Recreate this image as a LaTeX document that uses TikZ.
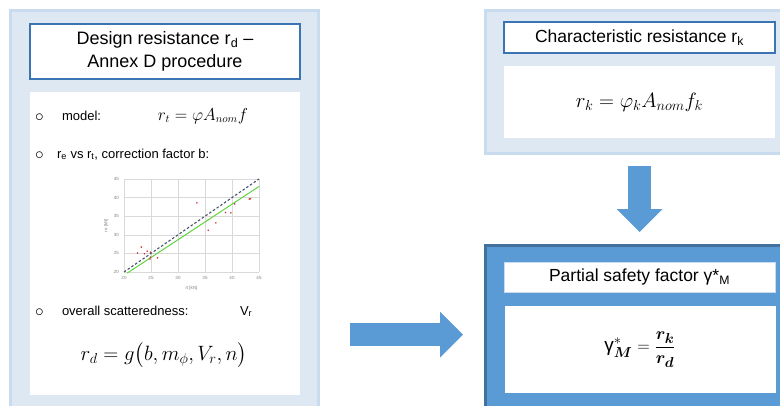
\documentclass[tikz,border=0pt]{standalone}
\usepackage{amsmath,bm}
\usepackage[no-math]{fontspec}
\setmainfont{Liberation Sans}
\usetikzlibrary{positioning,arrows.meta}
\definecolor{panelfill}{HTML}{DEE8F3}
\definecolor{panelline}{HTML}{C9DBEF}
\definecolor{titleline}{HTML}{3A74B2}
\definecolor{arrowblue}{HTML}{5B9BD5}
\definecolor{darkline}{HTML}{41719C}
\definecolor{fitgreen}{HTML}{5FD43F}
\definecolor{gridgray}{HTML}{D9D9D9}
\definecolor{dashgray}{HTML}{44546A}
\definecolor{dotred}{HTML}{D03030}

\begin{document}
\begin{tikzpicture}[x=1pt, y=-1pt,
  every node/.style={font=\fontsize{13}{16}\selectfont, inner sep=0pt, outer sep=0pt},
  panel/.style={draw=panelline, line width=3pt, fill=panelfill},
  titlebox/.style={draw=titleline, line width=2pt, fill=white, align=center,
                   minimum width=270pt},
  whitebox/.style={fill=white, minimum width=270pt},
  bulletmark/.style={font=\fontsize{17}{17}\selectfont},
  blockarrow/.style={draw=arrowblue, line width=23pt,
                     -{Triangle[length=23pt, width=46pt, line width=0pt]}},
  mathbig/.style={font=\fontsize{16}{18}\selectfont}
]
  \useasboundingbox (0,0) rectangle (780,405);
  \clip (0,0) rectangle (780,405);

  % left column: design resistance
  \node[panel, minimum width=308pt, minimum height=402pt] (design) at (164,211) {};
  \node[titlebox, minimum height=55pt, font=\fontsize{18}{23}\selectfont]
       (designtitle) at (165,51.5) {Design resistance r\textsubscript{d} --\\Annex D procedure};
  \node[whitebox, minimum height=303pt] (designbody) at (165,243.5) {};

  \node[anchor=base west, bulletmark] (bullA) at (35,121) {$\circ$};
  \node[anchor=base west] (model) at (62,120) {model:};
  \node[anchor=base, mathbig] (modeleq) at (203,120) {$r_t = \varphi A_{nom} f$};

  \node[anchor=base west, bulletmark] (bullB) at (35,159) {$\circ$};
  \node[anchor=base west] (compare) at (57,158)
       {r\textsubscript{e} vs r\textsubscript{t}, correction factor b:};

  % scatter plot re vs rt
  \begin{scope}[shift={(16,346.4)}, x=5.4pt, y=3.72pt]
    \draw[gridgray, line width=0.6pt] (20,20) grid[step=5] (45,45);
    \foreach \v in {20,25,...,45} {
      \node[font=\fontsize{4.5}{5}\selectfont, text=gray] at (\v,18.3) {\v};
      \node[font=\fontsize{4.5}{5}\selectfont, text=gray] at (18.6,\v) {\v};
    }
    \node[font=\fontsize{4.5}{5}\selectfont, text=gray] (rtlabel) at (32.5,15.7) {rt [kN]};
    \node[font=\fontsize{4.5}{5}\selectfont, text=gray, rotate=90] (relabel) at (16.7,32.5) {re [kN]};
    \draw[dashgray, line width=1.1pt, dash pattern=on 2.5pt off 2pt] (20,20) -- (45,45);
    \draw[fitgreen, line width=1pt] (20.6,19.7) -- (45,43);
    \foreach \px/\py in {22.5/25.1, 23.2/26.7, 23.8/24.9, 24.3/25.6, 24.9/25.3,
                         24.9/24.0, 24.8/23.5, 26.2/23.8, 33.5/38.6, 35.6/31.2,
                         37.0/33.2, 38.8/36.0, 39.8/35.9, 40.5/38.3, 43.2/39.6, 43.4/39.7}
      \fill[dotred] (\px,\py) circle[radius=0.9pt];
  \end{scope}

  \node[anchor=base west, bulletmark] (bullC) at (35,316) {$\circ$};
  \node[anchor=base west] (scatter) at (62,315) {overall scatteredness:};
  \node[anchor=base west] (vr) at (240,315) {V\textsubscript{r}};
  \node[font=\fontsize{21}{24}\selectfont] (designeq) at (164,355)
       {$r_d = g\bigl(b, m_{\phi}, V_r, n\bigr)$};

  % right column: characteristic resistance
  \node[panel, minimum width=309pt, minimum height=143pt] (charac) at (639.5,81.5) {};
  \node[titlebox, minimum width=271pt, minimum height=31pt, font=\fontsize{17.5}{20}\selectfont]
       (charactitle) at (639.5,37.5) {Characteristic resistance r\textsubscript{k}};
  \node[whitebox, minimum width=271pt, minimum height=72pt, font=\fontsize{20}{22}\selectfont]
       (characeq) at (639.5,102) {$r_k = \varphi_k A_{nom} f_k$};

  % right column: partial safety factor
  \node[panel, draw=darkline, fill=arrowblue, minimum width=309pt, minimum height=167pt]
       (safety) at (639.5,328.5) {};
  \node[titlebox, draw=panelline, line width=1pt, minimum width=271pt, minimum height=30pt,
        font=\fontsize{17.5}{20}\selectfont]
       (safetytitle) at (639.5,277) {Partial safety factor γ*\textsubscript{M}};
  \node[whitebox, minimum width=271pt, minimum height=87pt, font=\fontsize{19}{22}\selectfont]
       (safetyeq) at (640,349.5) {$\text{γ}^{*}_{\bm{M}} = \dfrac{\bm{r_k}}{\bm{r_d}}$};

  % flow arrows
  \draw[blockarrow, shorten <=32pt, shorten >=22pt] (design.east |- 0,334.5) -- (safety.west |- 0,334.5);
  \draw[blockarrow, shorten <=13pt, shorten >=13pt] (charac.south) -- (safety.north);
\end{tikzpicture}
\end{document}
